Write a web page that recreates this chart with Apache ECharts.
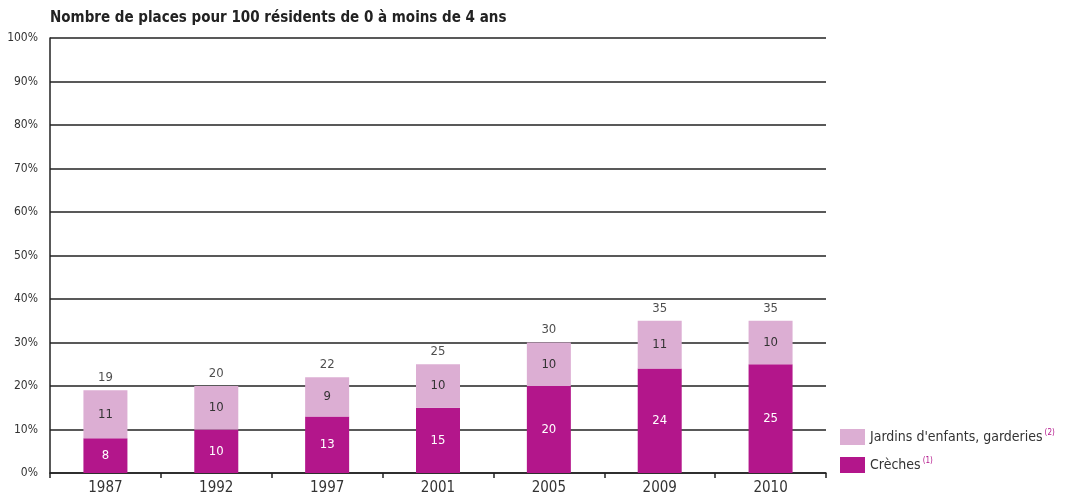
<!DOCTYPE html>
<html>
<head>
<meta charset="utf-8">
<script src="https://cdn.jsdelivr.net/npm/echarts@6/dist/echarts.min.js"></script>
<style>
  html, body { margin: 0; padding: 0; background: #fff; }
  #main { width: 1074px; height: 501px; }
</style>
</head>
<body>
<div id="main"></div>
<script>
var myChart = echarts.init(document.getElementById('main'));

const years = ['1987', '1992', '1997', '2001', '2005', '2009', '2010'];
const creches = [8, 10, 13, 15, 20, 24, 25];
const jardins = [11, 10, 9, 10, 10, 11, 10];
const totals = [19, 20, 22, 25, 30, 35, 35];

const font = '"Liberation Sans Narrow", "DejaVu Sans Condensed", "Liberation Sans", sans-serif';
const darkPink = '#b3168b';
const lightPink = '#dcaed3';

option = {
    backgroundColor: '#fff',
    animation: false,
    title: {
        text: 'Nombre de places pour 100 résidents de 0 à moins de 4 ans',
        left: 45,
        top: 6,
        textStyle: { fontFamily: font, fontSize: 15, fontWeight: 'bold', color: '#222' }
    },
    legend: {
        orient: 'vertical',
        left: 835,
        top: 424,
        itemWidth: 25,
        itemHeight: 16,
        itemGap: 12,
        icon: 'rect',
        data: ['Jardins', 'Crèches'],
        formatter: function (name) {
            if (name === 'Jardins') return "Jardins d'enfants, garderies{sup|(2)}";
            return 'Crèches{sup|(1)}';
        },
        textStyle: {
            fontFamily: font, fontSize: 14, color: '#333',
            rich: { sup: { fontSize: 8, color: darkPink, verticalAlign: 'top', padding: [0, 0, 8, 2] } }
        }
    },
    grid: { left: 50, right: 248, top: 38, bottom: 28 },
    xAxis: {
        type: 'category',
        data: years,
        axisLine: { lineStyle: { color: '#222', width: 1.5 } },
        axisTick: { show: true, length: 5, lineStyle: { color: '#222', width: 1.5 } },
        axisLabel: { fontFamily: font, fontSize: 15, color: '#333', margin: 8 }
    },
    yAxis: {
        type: 'value',
        min: 0,
        max: 100,
        interval: 10,
        axisLine: { show: true, lineStyle: { color: '#222', width: 1.5 } },
        axisTick: { show: false },
        axisLabel: { formatter: '{value}%', fontFamily: font, fontSize: 12, color: '#333', margin: 12 },
        splitLine: { lineStyle: { color: '#222', width: 1.5 } }
    },
    series: [
        {
            name: 'Crèches',
            type: 'bar',
            stack: 'total',
            barWidth: 44,
            data: creches,
            itemStyle: { color: darkPink },
            label: { show: true, position: 'inside', color: '#fff', fontFamily: font, fontSize: 13 }
        },
        {
            name: 'Jardins',
            type: 'bar',
            stack: 'total',
            barWidth: 44,
            data: jardins,
            itemStyle: { color: lightPink },
            label: { show: true, position: 'inside', color: '#333', fontFamily: font, fontSize: 13 }
        },
        {
            name: 'Total',
            type: 'scatter',
            symbolSize: 0,
            data: totals,
            silent: true,
            label: { show: true, position: 'top', distance: 6, color: '#222', fontFamily: font, fontSize: 13,
                formatter: function (p) { return p.value; } }
        }
    ]
};

myChart.setOption(option);
</script>
</body>
</html>
